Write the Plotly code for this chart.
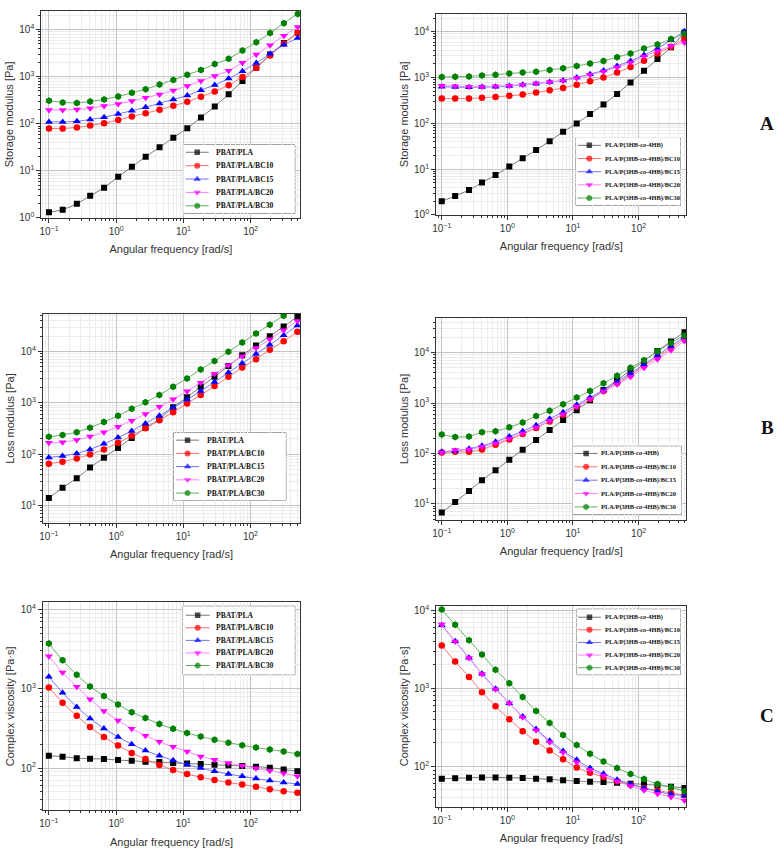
import plotly.graph_objects as go

# ---------------- data ----------------
FREQ = [0.1, 0.16, 0.26, 0.41, 0.66, 1.07, 1.71, 2.74, 4.41, 7.07, 11.4, 18.2,
        29.2, 47.0, 75.4, 121, 194, 312, 500]

NAMES_L = ["PBAT/PLA", "PBAT/PLA/BC10", "PBAT/PLA/BC15", "PBAT/PLA/BC20", "PBAT/PLA/BC30"]
NAMES_R = ["PLA/P(3HB-<i>co</i>-4HB)", "PLA/P(3HB-<i>co</i>-4HB)/BC10",
           "PLA/P(3HB-<i>co</i>-4HB)/BC15", "PLA/P(3HB-<i>co</i>-4HB)/BC20",
           "PLA/P(3HB-<i>co</i>-4HB)/BC30"]

# Storage modulus [Pa]
SM_L_PBAT = [1.32, 1.5, 2.0, 2.95, 4.4, 7.5, 12.2, 19.9, 31.8, 50.7, 81, 136, 235, 427, 815, 1560, 2970, 5250, 8500]
SM_L_BC10 = [80, 80, 84, 92, 103, 121, 143, 168, 200, 243, 295, 376, 487, 662, 991, 1560, 2850, 5070, 8500]
SM_L_BC15 = [110, 110, 113, 124, 138, 162, 191, 225, 272, 331, 400, 520, 673, 915, 1306, 1960, 3080, 4800, 6650]
SM_L_BC20 = [198, 198, 203, 214, 240, 265, 305, 358, 421, 512, 641, 817, 1042, 1350, 1990, 2980, 4680, 7480, 11400]
SM_L_BC30 = [311, 286, 277, 300, 331, 383, 457, 545, 684, 858, 1110, 1390, 1870, 2410, 3610, 5410, 8500, 13800, 21700]

SM_R_PLA = [2.0, 2.6, 3.5, 5.1, 7.45, 11.4, 17.4, 26.3, 41, 65.5, 100, 160, 260, 442, 789, 1410, 2560, 4600, 9680]
SM_R_BC10 = [350, 350, 350, 363, 380, 401, 427, 472, 530, 595, 703, 830, 1012, 1290, 1720, 2350, 3390, 4740, 7180]
SM_R_BC15 = [635, 625, 615, 625, 635, 658, 703, 740, 803, 870, 1012, 1195, 1435, 1810, 2320, 3130, 4360, 6610, 10300]
SM_R_BC20 = [668, 650, 635, 635, 650, 668, 703, 751, 803, 858, 980, 1156, 1365, 1695, 2140, 2890, 3820, 4900, 5870]
SM_R_BC30 = [1030, 1045, 1065, 1120, 1156, 1235, 1290, 1350, 1480, 1610, 1810, 2040, 2320, 2790, 3390, 4360, 5300, 7000, 9150]

# Loss modulus [Pa]
LM_L_PBAT = [14.1, 22.2, 34.2, 55, 85.6, 133, 208, 324, 484, 824, 1284, 2067, 3220, 5250, 8440, 13150, 19950, 30600, 47600]
LM_L_BC10 = [65.6, 71.7, 83, 99.3, 124, 167, 228, 320, 457, 661, 971, 1427, 2128, 3220, 4870, 7060, 10840, 15850, 24380]
LM_L_BC15 = [86.9, 92.2, 104, 124, 160, 211, 284, 399, 561, 813, 1160, 1703, 2540, 3900, 5890, 8920, 13500, 20800, 32000]
LM_L_BC20 = [167, 172, 190, 221, 268, 345, 450, 605, 837, 1176, 1680, 2470, 3680, 5410, 8070, 11670, 17400, 26000, 39400]
LM_L_BC30 = [218, 238, 268, 330, 424, 561, 766, 1030, 1427, 2067, 2990, 4470, 6560, 9930, 15000, 22400, 33400, 49900, 74000]

LM_R_PLA = [6.76, 10.9, 18, 29.6, 46.5, 75.4, 119, 186, 293, 460, 724, 1137, 1820, 2860, 4430, 6760, 10770, 16700, 25400]
LM_R_BC10 = [105, 108, 108, 120, 149, 189, 244, 321, 433, 586, 851, 1200, 1740, 2460, 3580, 5460, 8200, 12300, 18800]
LM_R_BC15 = [108, 112, 124, 142, 171, 217, 276, 362, 490, 661, 922, 1285, 1820, 2650, 3860, 5810, 8850, 13500, 20300]
LM_R_BC20 = [105, 117, 120, 136, 160, 198, 253, 330, 447, 603, 851, 1200, 1686, 2350, 3320, 4990, 7380, 11100, 16900]
LM_R_BC30 = [237, 213, 217, 264, 276, 330, 414, 552, 703, 950, 1285, 1740, 2460, 3475, 4990, 7060, 10600, 15700, 21900]

# Complex viscosity [Pa.s]
CV_L_PBAT = [143, 139, 133, 131, 130, 126, 123.5, 120, 119, 115.5, 114, 112, 110, 108, 106, 104, 101, 96, 91]
CV_L_BC10 = [1040, 668, 455, 328, 246, 192, 155, 130, 109, 94.4, 84, 76.5, 70.8, 65.6, 62, 57.9, 54.1, 51.1, 48.7]
CV_L_BC15 = [1413, 891, 590, 422, 316, 246, 200, 166, 143, 125, 110, 100, 91, 84, 78.7, 73.6, 69.5, 65.6, 63]
CV_L_BC20 = [2560, 1600, 1060, 736, 525, 398, 313, 256, 215, 185, 162, 140, 127, 115.5, 107, 99, 92.6, 85.8, 78.7]
CV_L_BC30 = [3720, 2280, 1496, 1070, 810, 631, 506, 426, 358, 313, 277, 249, 228, 209, 194, 181, 171, 162, 150]

CV_R_PLA = [69.8, 70.5, 71.8, 72.5, 72.5, 71.8, 71.1, 69.8, 68.4, 66.4, 65.1, 63.9, 63.3, 62, 60.3, 59.1, 57.4, 55.2, 53.1]
CV_R_BC10 = [3530, 2210, 1400, 894, 589, 403, 283, 207, 160, 124, 97, 83, 73.2, 64.5, 58.5, 53, 49.1, 45.9, 42.9]
CV_R_BC15 = [6450, 4010, 2460, 1540, 986, 647, 435, 301, 214, 158, 121.5, 95.3, 80.7, 67.8, 59.7, 53.1, 47.7, 44.2, 42.1]
CV_R_BC20 = [6580, 3970, 2440, 1528, 977, 643, 427, 292, 204, 151, 113.5, 90.7, 76.9, 64.5, 56.3, 49.6, 44.6, 40.8, 36.7]
CV_R_BC30 = [10200, 6520, 4120, 2710, 1730, 1163, 773, 513, 361, 252, 188, 145, 116, 95.3, 80, 69, 59.7, 54.2, 48.2]

X_TICKVALS = [0.1, 1, 10, 100]
X_TICKTEXT = ["10<sup>\u22121</sup>", "10<sup>0</sup>", "10<sup>1</sup>", "10<sup>2</sup>"]
Y_TICKVALS = [1, 10, 100, 1000, 10000]
Y_TICKTEXT = ["10<sup>0</sup>", "10<sup>1</sup>", "10<sup>2</sup>", "10<sup>3</sup>", "10<sup>4</sup>"]

PANEL_LETTERS = ["A", "B", "C"]

# ---------------- styles / layout ----------------
W, H = 780, 854
MARKERS = ["square", "circle", "triangle-up", "triangle-down", "hexagon"]
MCOLORS = ["#000000", "#ff0000", "#0000ff", "#ff00ff", "#008000"]
LCOLORS = ["#777777", "#ff7070", "#7070ff", "#ff80ff", "#60b060"]
MSIZES = [6, 6.5, 7, 7, 7]

PANELS = [
    dict(series=[SM_L_PBAT, SM_L_BC10, SM_L_BC15, SM_L_BC20, SM_L_BC30], names=NAMES_L,
         px=(37.5, 298), py=(9, 218), xr=(-1.114, 2.74), yr=(0, 4.4), ytitle="Storage modulus [Pa]",
         leg=dict(box=(180.3, 292.3, 144.3, 213.3), row0=151.7, dy=13.5, lx=(182.7, 205.7), tx=211.3, fs=7.6)),
    dict(series=[SM_R_PLA, SM_R_BC10, SM_R_BC15, SM_R_BC20, SM_R_BC30], names=NAMES_R,
         px=(434.3, 686), py=(11.7, 215), xr=(-1.087, 2.73), yr=(0, 4.40), ytitle="Storage modulus [Pa]",
         leg=dict(box=(575, 680, 137.3, 205.3), row0=144.7, dy=13.3, lx=(576.7, 600), tx=602.3, fs=6.4)),
    dict(series=[LM_L_PBAT, LM_L_BC10, LM_L_BC15, LM_L_BC20, LM_L_BC30], names=NAMES_L,
         px=(39, 297.7), py=(315, 526), xr=(-1.09, 2.74), yr=(0.66, 4.73), ytitle="Loss modulus [Pa]",
         leg=dict(box=(170.7, 283.3, 435, 502.7), row0=442.3, dy=13.35, lx=(173, 196), tx=201.7, fs=7.6)),
    dict(series=[LM_R_PLA, LM_R_BC10, LM_R_BC15, LM_R_BC20, LM_R_BC30], names=NAMES_R,
         px=(434.3, 686), py=(319.3, 522.7), xr=(-1.087, 2.73), yr=(0.686, 4.68), ytitle="Loss modulus [Pa]",
         leg=dict(box=(572, 681, 448.5, 517), row0=455.7, dy=13.5, lx=(573.5, 596.7), tx=598.3, fs=6.4)),
    dict(series=[CV_L_PBAT, CV_L_BC10, CV_L_BC15, CV_L_BC20, CV_L_BC30], names=NAMES_L,
         px=(39, 297.7), py=(606, 816), xr=(-1.09, 2.74), yr=(1.466, 4.09), ytitle="Complex viscosity [Pa\u00b7s]",
         leg=dict(box=(180, 292.3, 610, 679), row0=619, dy=12.7, lx=(182.7, 206.7), tx=210.7, fs=7.6)),
    dict(series=[CV_R_PLA, CV_R_BC10, CV_R_BC15, CV_R_BC20, CV_R_BC30], names=NAMES_R,
         px=(434.3, 686), py=(609.3, 812.7), xr=(-1.087, 2.73), yr=(1.48, 4.06), ytitle="Complex viscosity [Pa\u00b7s]",
         leg=dict(box=(576, 680, 613, 679), row0=621, dy=12.75, lx=(577, 600), tx=601.7, fs=6.4)),
]
LETTER_POS = [(767, 123), (767, 430), (767, 720)]

SANS = "Liberation Sans, Arial, sans-serif"
SERIF = "Liberation Serif, Times New Roman, serif"


def minor_vals(lo, hi):
    out = []
    for e in range(lo, hi):
        for m in range(2, 10):
            out.append(m * 10.0 ** e)
    return out


fig = go.Figure()
layout = dict(width=W, height=H, autosize=False, margin=dict(l=0, r=0, t=0, b=0),
              paper_bgcolor="white", plot_bgcolor="white", showlegend=False,
              font=dict(family=SANS, size=10, color="#333"))
shapes, annotations = [], []

for i, p in enumerate(PANELS):
    n = i + 1
    sx = "" if n == 1 else str(n)
    xref, yref = "x" + sx, "y" + sx
    for j, (vals, name) in enumerate(zip(p["series"], p["names"])):
        fig.add_trace(go.Scatter(
            x=FREQ, y=vals, name=name, mode="lines+markers", xaxis=xref, yaxis=yref,
            line=dict(color=LCOLORS[j], width=1, shape="spline", smoothing=0.5),
            marker=dict(symbol=MARKERS[j], color=MCOLORS[j], size=MSIZES[j], line=dict(width=0)),
        ))
    common = dict(type="log", showline=True, linecolor="#333", linewidth=1, mirror=True,
                  ticks="outside", ticklen=4, tickcolor="#333", showgrid=True, gridcolor="#c4c4c4",
                  gridwidth=1, zeroline=False, tickfont=dict(family=SANS, size=10, color="#333"))
    layout["xaxis" + sx] = dict(
        common, domain=[p["px"][0] / W, p["px"][1] / W], range=list(p["xr"]), anchor=yref,
        tickmode="array", tickvals=X_TICKVALS, ticktext=X_TICKTEXT,
        minor=dict(tickmode="array", tickvals=minor_vals(-2, 3), ticks="outside", ticklen=2,
                   tickcolor="#333", showgrid=True, gridcolor="#ececec", gridwidth=1),
        title=dict(text="Angular frequency [rad/s]", font=dict(family=SANS, size=11, color="#333"), standoff=9),
    )
    layout["yaxis" + sx] = dict(
        common, domain=[1 - p["py"][1] / H, 1 - p["py"][0] / H], range=list(p["yr"]), anchor=xref,
        tickmode="array", tickvals=Y_TICKVALS, ticktext=Y_TICKTEXT,
        minor=dict(tickmode="array", tickvals=minor_vals(0, 5), ticks="outside", ticklen=2,
                   tickcolor="#333", showgrid=True, gridcolor="#ececec", gridwidth=1),
        title=dict(text=p["ytitle"], font=dict(family=SANS, size=11, color="#333"), standoff=3),
    )

    # ---- legend box (own hidden subplot, pixel units) ----
    k = i + 7
    lxr, lyr = "x%d" % k, "y%d" % k
    lg = p["leg"]
    bx0, bx1, by0, by1 = lg["box"]
    layout["xaxis%d" % k] = dict(domain=[bx0 / W, bx1 / W], range=[bx0, bx1], visible=False,
                                 anchor=lyr, fixedrange=True)
    layout["yaxis%d" % k] = dict(domain=[1 - by1 / H, 1 - by0 / H], range=[by1, by0], visible=False,
                                 anchor=lxr, fixedrange=True)
    shapes.append(dict(type="rect", xref=lxr + " domain", yref=lyr + " domain", x0=0, x1=1, y0=0, y1=1,
                       fillcolor="white", line=dict(color="#555", width=1), layer="below"))
    xm = (lg["lx"][0] + lg["lx"][1]) / 2
    for j, name in enumerate(p["names"]):
        ry = lg["row0"] + j * lg["dy"]
        fig.add_trace(go.Scatter(
            x=[lg["lx"][0], xm, lg["lx"][1]], y=[ry, ry, ry], mode="lines+markers",
            xaxis=lxr, yaxis=lyr, hoverinfo="skip", showlegend=False,
            line=dict(color=LCOLORS[j], width=1),
            marker=dict(symbol=MARKERS[j], color=MCOLORS[j], size=[0, MSIZES[j] - 0.5, 0], line=dict(width=0)),
        ))
        annotations.append(dict(xref=lxr, yref=lyr, x=lg["tx"], y=ry, text="<b>%s</b>" % name,
                                showarrow=False, xanchor="left", yanchor="middle",
                                font=dict(family=SERIF, size=lg["fs"], color="#111")))

for letter, (lx, ly) in zip(PANEL_LETTERS, LETTER_POS):
    annotations.append(dict(xref="paper", yref="paper", x=lx / W, y=1 - ly / H, text="<b>%s</b>" % letter,
                            showarrow=False, xanchor="center", yanchor="middle",
                            font=dict(family=SERIF, size=19, color="#111")))

layout["shapes"] = shapes
layout["annotations"] = annotations
fig.update_layout(**layout)
fig.write_html("out.html", config={"displayModeBar": False},
               post_script="document.body.style.margin='0';document.body.style.overflow='hidden';")
